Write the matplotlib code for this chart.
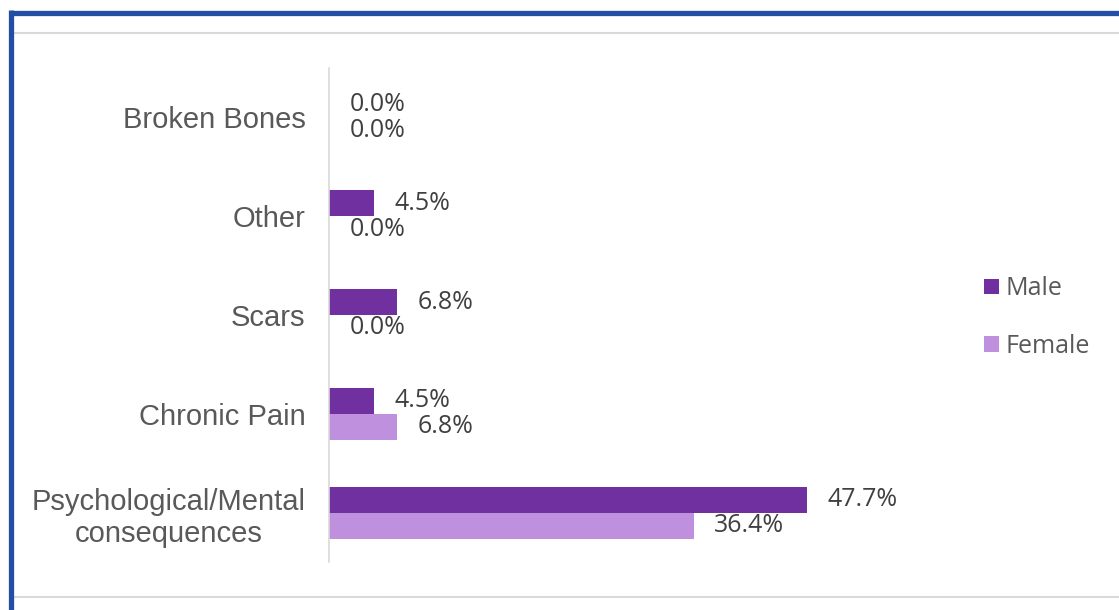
import numpy as np
import matplotlib.pyplot as plt
from matplotlib.lines import Line2D

# Data (bottom to top)
categories = ['Psychological/Mental\nconsequences', 'Chronic Pain', 'Scars', 'Other', 'Broken Bones']
male = [47.7, 4.5, 6.8, 4.5, 0.0]
female = [36.4, 6.8, 0.0, 0.0, 0.0]

male_color = '#7030A0'
female_color = '#BE90DE'

fig = plt.figure(figsize=(11.19, 6.1), dpi=100)
ax = fig.add_axes([329 / 1119, 1 - 562 / 610, (960 - 329) / 1119, 494 / 610])

y = np.arange(len(categories))
h = 0.263
ax.barh(y + h / 2, male, height=h, color=male_color, label='Male')
ax.barh(y - h / 2, female, height=h, color=female_color, label='Female')

# value labels
for i in range(len(categories)):
    ax.annotate(f'{male[i]:.1f}%', (male[i], y[i] + h / 2), xytext=(15, 0),
                textcoords='offset points', ha='left', va='center',
                fontsize=18, color='#404040', family='Open Sans')
    ax.annotate(f'{female[i]:.1f}%', (female[i], y[i] - h / 2), xytext=(15, 0),
                textcoords='offset points', ha='left', va='center',
                fontsize=18, color='#404040', family='Open Sans')

ax.set_xlim(0, 63)
ax.set_ylim(-0.5, 4.5)
ax.set_yticks(y)
ax.set_yticklabels(categories, fontsize=21, color='#595959',
                   family='Liberation Sans', multialignment='center',
                   linespacing=1.2)
ax.tick_params(axis='y', length=0, pad=17)
ax.set_xticks([])
for s in ['top', 'right', 'bottom']:
    ax.spines[s].set_visible(False)
ax.spines['left'].set_color('#D9D9D9')
ax.spines['left'].set_linewidth(1.2)

fig.legend(loc='center left', bbox_to_anchor=(984 / 1119, 1 - 317.5 / 610),
           frameon=False, handlelength=0.6, handleheight=0.6,
           handletextpad=0.25, labelspacing=1.3, borderpad=0, borderaxespad=0,
           labelcolor='#595959', prop={'family': 'Open Sans', 'size': 18})

# frame decorations
fig.add_artist(Line2D([13 / 1119, 1], [1 - 32.5 / 610] * 2, color='#D9D9D9', lw=1.5))
fig.add_artist(Line2D([13 / 1119, 1], [1 - 596.5 / 610] * 2, color='#D9D9D9', lw=1.5))
fig.add_artist(Line2D([10.5 / 1119, 1], [1 - 12.5 / 610] * 2, color='#234EA3', lw=3.8,
                      solid_capstyle='butt'))
fig.add_artist(Line2D([10.5 / 1119] * 2, [0, 1 - 10 / 610], color='#234EA3', lw=3.8,
                      solid_capstyle='butt'))

plt.savefig('out.png', dpi=100)
